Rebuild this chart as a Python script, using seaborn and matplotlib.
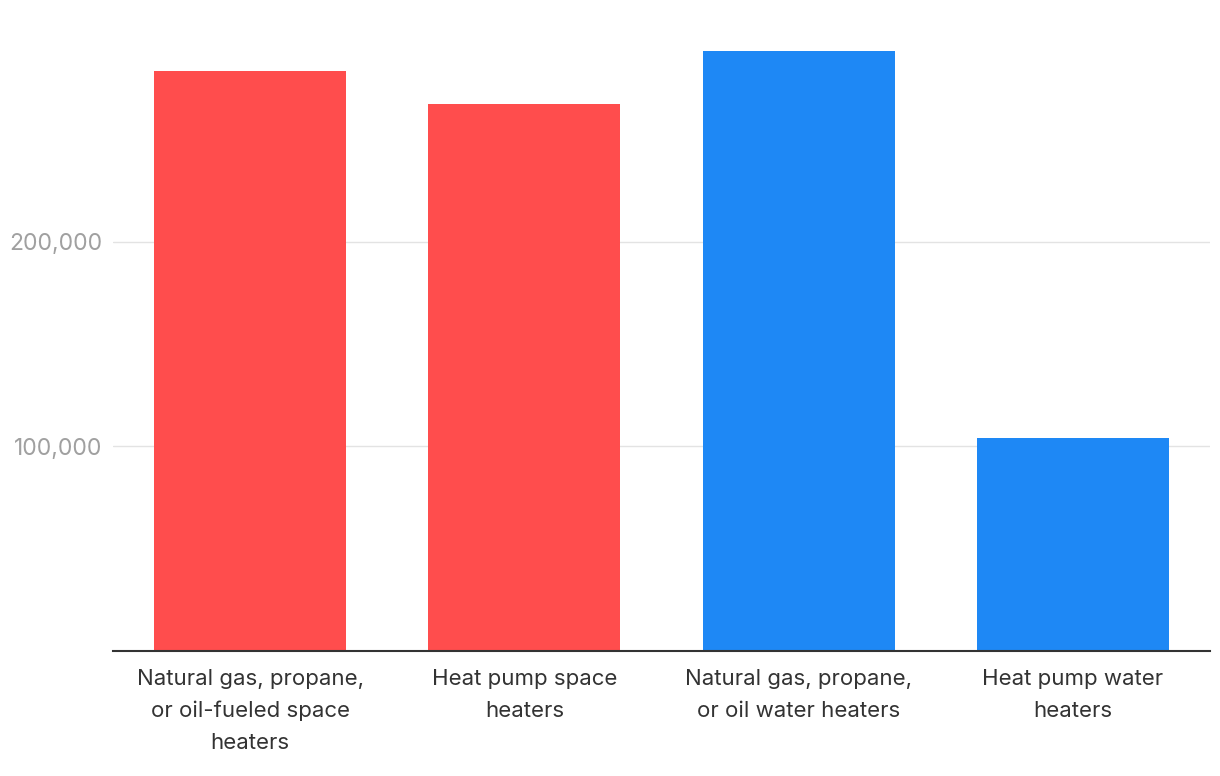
import matplotlib.pyplot as plt
import seaborn as sns
import pandas as pd

categories = [
    "Natural gas, propane,\nor oil-fueled space\nheaters",
    "Heat pump space\nheaters",
    "Natural gas, propane,\nor oil water heaters",
    "Heat pump water\nheaters",
]
values = [283500, 267500, 293000, 104000]
groups = ["space", "space", "water", "water"]
palette = {"space": "#FF4D4D", "water": "#1E88F5"}

df = pd.DataFrame({"category": categories, "value": values, "group": groups})

sns.set_theme(style="white")
plt.rcParams['font.family'] = ['Inter', 'DejaVu Sans']

fig = plt.figure(figsize=(12.2, 7.76), dpi=100)
ax = fig.add_axes([113 / 1220, 125 / 776, 1097 / 1220, 614 / 776])

sns.barplot(data=df, x="category", y="value", hue="group", palette=palette,
            dodge=False, width=0.7, saturation=1, legend=False,
            linewidth=0, ax=ax)

ax.set_xlim(-0.5, 3.5)
ax.set_ylim(0, 300000)
ax.set_yticks([100000, 200000])
ax.set_yticklabels(["100,000", "200,000"])
ax.yaxis.grid(True, color="#e3e3e3", linewidth=1)
ax.set_axisbelow(True)
for s in ["top", "right", "left"]:
    ax.spines[s].set_visible(False)
ax.spines["bottom"].set_color("#333333")
ax.spines["bottom"].set_linewidth(1.5)
ax.tick_params(axis="y", length=0, pad=8, labelsize=16.5, labelcolor="#a0a0a0")
ax.tick_params(axis="x", length=0, pad=13, labelsize=16, labelcolor="#333333")
for lbl in ax.get_xticklabels():
    lbl.set_linespacing(1.72)
ax.set_xlabel("")
ax.set_ylabel("")

fig.savefig("out.png", dpi=100)
